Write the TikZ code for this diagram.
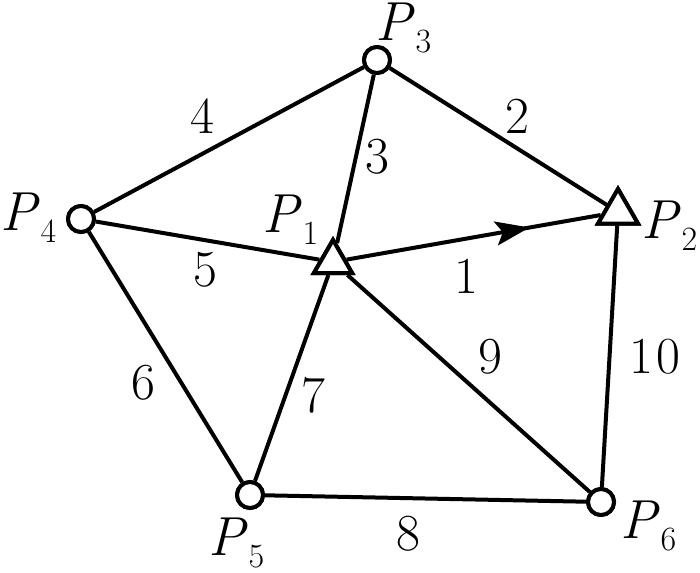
\documentclass[tikz,border=0pt]{standalone}
\usepackage{fontspec}
\usetikzlibrary{shapes.geometric,arrows.meta,decorations.markings}
\newcommand{\plab}[1]{\fontsize{55}{60}\selectfont\addfontfeatures{FakeBold=0.6}\textit{P}\kern1pt\raisebox{-12pt}{\fontsize{34}{36}\selectfont\addfontfeatures{FakeBold=0.6}#1}}
\tikzset{
  vcirc/.style={circle,draw,line width=4pt,fill=white,minimum size=26pt,inner sep=0pt},
  vtri/.style={regular polygon,regular polygon sides=3,draw,line width=4pt,fill=white,minimum size=44pt,inner sep=0pt},
  edge/.style={line width=4pt},
  elab/.style={font=\fontsize{52}{56}\selectfont\addfontfeatures{FakeBold=0.6},inner sep=0pt},
  plabel/.style={anchor=base west,inner sep=0pt}
}
\begin{document}
\begin{tikzpicture}[x=1pt,y=-1pt]
\useasboundingbox (0,0) rectangle (700,572);
\node[vcirc] (P3) at (377,60) {};
\node[vcirc] (P4) at (81,219) {};
\node[vtri]  (P1) at (333,262) {};
\node[vtri,minimum size=46pt] (P2) at (618,212) {};
\node[vcirc] (P5) at (250,495) {};
\node[vcirc] (P6) at (601,502) {};
\draw[edge] (P4) -- (P3);
\draw[edge] (P3) -- (P2);
\draw[edge] (P3) -- (P1);
\draw[edge] (P4) -- (P1);
\draw[edge,postaction={decorate},decoration={markings,mark=at position 0.72 with {\arrow{Stealth[length=34pt,width=24pt,inset=7pt]}}}] (P1) -- (P2);
\draw[edge] (P4) -- (P5);
\draw[edge] (P1) -- (P5);
\draw[edge] (P1) -- (P6);
\draw[edge] (P2) -- (P6);
\draw[edge] (P5) -- (P6);
\node[vcirc] at (P3) {};
\node[vcirc] at (P4) {};
\node[vtri] at (P1) {};
\node[vtri,minimum size=46pt] at (P2) {};
\node[vcirc] at (P5) {};
\node[vcirc] at (P6) {};
\node[plabel] (L3) at (375,41) {\plab{3}};
\node[plabel] (L4) at (0,230) {\plab{4}};
\node[plabel] (L1) at (262,232) {\plab{1}};
\node[plabel] (L2) at (641,238) {\plab{2}};
\node[plabel] (L5) at (208,555) {\plab{5}};
\node[plabel] (L6) at (620,538) {\plab{6}};
\node[elab] (e4) at (202,116) {4};
\node[elab] (e2) at (517,116) {2};
\node[elab] (e3) at (377,157) {3};
\node[elab] (e5) at (205,270) {5};
\node[elab] (e1) at (466,276) {1};
\node[elab] (e9) at (490,357) {9};
\node[elab] (e10) at (655,357) {1\kern3pt0};
\node[elab] (e6) at (143,383) {6};
\node[elab] (e7) at (313,395) {7};
\node[elab] (e8) at (408,534) {8};
\end{tikzpicture}
\end{document}
